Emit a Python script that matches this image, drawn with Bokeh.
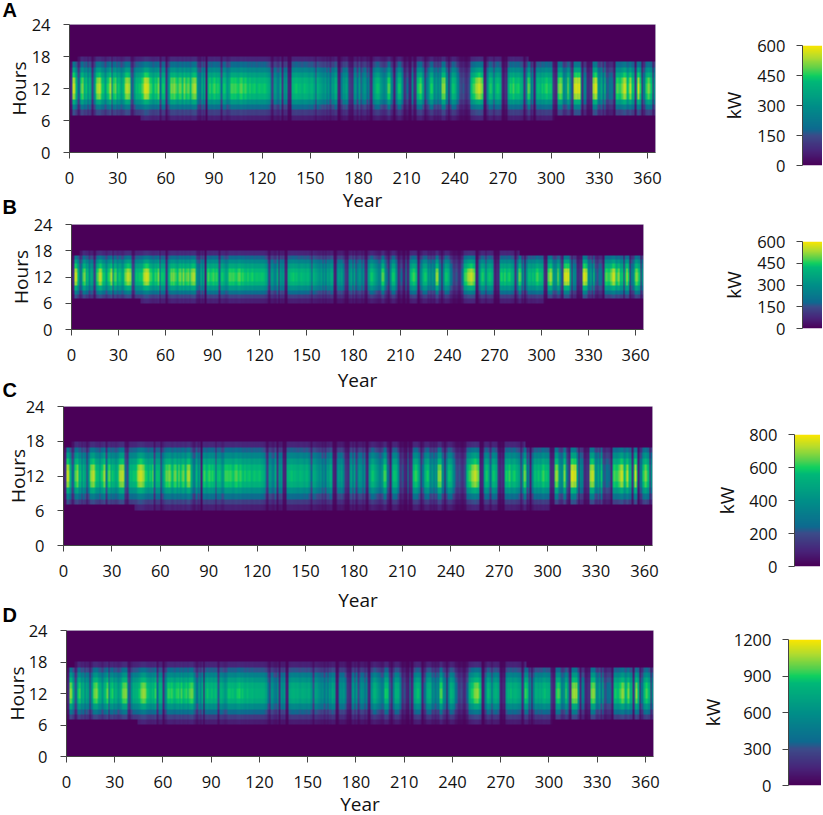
# -*- coding: utf-8 -*-
# Hourly power output over one year, four systems (A-D), each with its own kW scale
import numpy as np

from bokeh.plotting import figure
from bokeh.layouts import column
from bokeh.models import LinearColorMapper, FixedTicker, Title
from bokeh.embed import file_html
from bokeh.resources import INLINE

# noon output per day in kW
day_peak = [
    60, 150, 560, 530, 400, 180, 260, 480, 520, 400,
    430, 280, 400, 350, 130, 300, 470, 530, 550, 500,
    440, 430, 340, 450, 480, 530, 220, 460, 490, 380,
    440, 420, 360, 420, 500, 540, 550, 520, 200, 150,
    330, 430, 420, 440, 440, 480, 540, 570, 560, 530,
    470, 450, 420, 460, 440, 500, 200, 430, 440, 420,
    110, 300, 430, 500, 490, 510, 470, 430, 490, 500,
    440, 510, 440, 480, 500, 430, 510, 540, 530, 400,
    260, 230, 420, 300, 400, 60, 420, 470, 430, 450,
    470, 440, 460, 430, 180, 430, 440, 400, 330, 380,
    470, 470, 460, 470, 450, 440, 480, 490, 450, 470,
    440, 430, 460, 430, 440, 450, 420, 430, 440, 430,
    430, 440, 430, 410, 380, 220, 130, 330, 340, 260,
    240, 370, 110, 330, 300, 340, 80, 70, 400, 420,
    430, 440, 420, 430, 410, 400, 430, 420, 410, 390,
    420, 410, 350, 180, 400, 380, 360, 330, 300, 340,
    240, 320, 220, 350, 330, 400, 370, 80, 60, 220,
    330, 320, 360, 260, 130, 110, 90, 300, 350, 200,
    340, 160, 260, 330, 310, 200, 280, 110, 80, 330,
    400, 440, 430, 380, 330, 280, 260, 330, 480, 470,
    280, 180, 70, 280, 430, 440, 420, 280, 100, 130,
    180, 80, 70, 270, 90, 110, 400, 450, 480, 440,
    330, 80, 200, 300, 420, 450, 430, 280, 330, 240,
    320, 280, 510, 520, 330, 260, 60, 270, 430, 440,
    400, 280, 220, 150, 130, 160, 110, 90, 140, 200,
    430, 470, 490, 530, 550, 560, 520, 470, 70, 80,
    280, 430, 460, 400, 210, 400, 440, 430, 390, 110,
    60, 100, 80, 380, 450, 430, 470, 420, 440, 450,
    420, 400, 350, 110, 280, 500, 470, 200, 280, 70,
    280, 420, 430, 400, 440, 410, 450, 470, 430, 440,
    420, 120, 80, 90, 480, 530, 500, 330, 280, 340,
    510, 400, 180, 110, 550, 580, 560, 570, 340, 100,
    280, 260, 90, 80, 110, 100, 530, 570, 540, 320,
    280, 370, 230, 440, 180, 150, 210, 220, 180, 80,
    440, 480, 460, 470, 510, 570, 550, 430, 480, 540,
    430, 430, 110, 430, 560, 450, 70, 220, 280, 460,
    510, 480, 430, 100, 300,
]

# share of the noon output in each hour of the day
hour_share = [0, 0, 0, 0, 0, 0, 0.14, 0.28, 0.45, 0.7, 0.93, 1.0,
              1.0, 0.95, 0.8, 0.62, 0.4, 0.17, 0, 0, 0, 0, 0, 0]
# hours 6 and 17 only carry power between these days
hour6_days = (44, 301)
hour17_days = (5, 285)

panel_names = ["A", "B", "C", "D"]
panel_scale = [1.0, 1.0, 1.32, 1.85]
bar_ticks = [[0, 150, 300, 450, 600],
             [0, 150, 300, 450, 600],
             [0, 200, 400, 600, 800],
             [0, 300, 600, 900, 1200]]
x_ticks = list(range(0, 361, 30))
y_ticks = [0, 6, 12, 18, 24]

# colour bar stops as they look in the picture
stop_pos = [0, 0.12, 0.25, 0.3, 0.5, 0.7, 0.75, 0.8, 0.9, 1]
stop_rgb = [(74, 0, 88), (72, 37, 122), (60, 76, 138), (14, 106, 144), (0, 144, 136),
            (0, 184, 120), (16, 208, 96), (80, 208, 80), (176, 220, 48), (251, 230, 0)]

FONT = "Open Sans"
INK = "#111111"
AXIS = "#444444"

# pixel boxes on the page: heatmap left, right, top, bottom
frames = [(69, 655, 24, 153), (71, 643, 224, 330), (63, 652, 406, 545), (66, 653, 630, 759)]
bar_frames = [(802, 822, 45, 165), (802, 822, 241, 328), (794, 820, 434, 566), (788, 821, 639, 785)]
fig_boxes = [(-20, 215), (180, 395), (360, 615), (580, 819)]   # figure top, bottom
letter_standoff = [7, 14, 11, 10]
year_standoff = [0, 3, 7, 0]
hours_standoff = [-3, -3, -8, -4]
kw_standoff = [7, 7, 6, 5]
BAR_PAD = 14


def make_palette():
    t = np.linspace(0, 1, 256)
    rgb = np.array(stop_rgb, dtype=float)
    chans = [np.interp(t, stop_pos, rgb[:, i]) for i in range(3)]
    return ["#%02x%02x%02x" % (int(r), int(g), int(b)) for r, g, b in zip(*chans)]


def day_grid(scale):
    grid = np.outer(hour_share, day_peak) * scale
    days = np.arange(len(day_peak))
    grid[6, (days < hour6_days[0]) | (days > hour6_days[1])] = 0
    grid[17, (days < hour17_days[0]) | (days > hour17_days[1])] = 0
    # repeat the cells so the browser does not smear them when it scales the image
    return np.repeat(np.repeat(grid, 8, axis=0), 4, axis=1)


def style_axis(ax):
    ax.axis_line_color = AXIS
    ax.major_tick_line_color = AXIS
    ax.minor_tick_line_color = None
    ax.major_tick_in = 0
    ax.major_tick_out = 6
    ax.major_label_text_font = FONT
    ax.major_label_text_font_size = "16.5px"
    ax.major_label_text_color = INK
    ax.axis_label_text_font = FONT
    ax.axis_label_text_font_size = "19px"
    ax.axis_label_text_font_style = "normal"
    ax.axis_label_text_color = INK


def heat_panel(i, mapper):
    left, right, top, bottom = frames[i]
    fig_top, fig_bottom = fig_boxes[i]
    p = figure(width=right + 12, height=fig_bottom - fig_top,
               x_range=(0, 365), y_range=(0, 24),
               min_border_left=left, min_border_right=12,
               min_border_top=top - fig_top, min_border_bottom=fig_bottom - bottom,
               toolbar_location=None, output_backend="svg", frame_align=False,
               background_fill_alpha=0, border_fill_alpha=0)
    p.image(image=[day_grid(panel_scale[i])], x=0, y=0, dw=365, dh=24, color_mapper=mapper)
    p.grid.visible = False
    p.outline_line_color = "#c9c9d4"
    p.xaxis.ticker = FixedTicker(ticks=x_ticks)
    p.yaxis.ticker = FixedTicker(ticks=y_ticks)
    p.xaxis.axis_label = "Year"
    p.yaxis.axis_label = "Hours"
    style_axis(p.xaxis[0])
    style_axis(p.yaxis[0])
    p.xaxis.major_label_standoff = 13
    p.yaxis.major_label_standoff = 13
    p.xaxis.axis_label_standoff = year_standoff[i]
    p.yaxis.axis_label_standoff = hours_standoff[i]
    # the panel letter is the figure's title, pulled left over the axis
    p.title = Title(text=panel_names[i], align="left", offset=2 - left,
                    standoff=letter_standoff[i], text_font="Liberation Sans",
                    text_font_size="20px", text_font_style="bold", text_color="#000000")
    return p


def bar_panel(i, mapper):
    left, right, top, bottom = bar_frames[i]
    ticks = bar_ticks[i]
    p = figure(width=right - 690, height=bottom - top + 2 * BAR_PAD,
               x_range=(0, 1), y_range=(ticks[0], ticks[-1]),
               min_border_left=left - 690, min_border_right=0,
               min_border_top=BAR_PAD, min_border_bottom=BAR_PAD,
               toolbar_location=None, output_backend="svg", frame_align=False,
               background_fill_alpha=0, border_fill_alpha=0)
    levels = np.linspace(ticks[0], ticks[-1], 256).reshape(256, 1)
    p.image(image=[levels], x=0, y=ticks[0], dw=1, dh=ticks[-1], color_mapper=mapper)
    p.grid.visible = False
    p.outline_line_color = None
    p.xaxis.visible = False
    p.yaxis.ticker = FixedTicker(ticks=ticks)
    p.yaxis.axis_label = "kW"
    style_axis(p.yaxis[0])
    p.yaxis.major_label_standoff = 11
    p.yaxis.axis_label_standoff = kw_standoff[i]
    return p


palette = make_palette()
children = []
cursor = 0
for i in range(4):
    mapper = LinearColorMapper(palette=palette, low=0, high=bar_ticks[i][-1])
    heat = heat_panel(i, mapper)
    bar = bar_panel(i, mapper)
    fig_top, fig_bottom = fig_boxes[i]
    bar_top = bar_frames[i][2] - BAR_PAD
    # stacked in one column, negative margins bring each figure to its spot on the page
    heat.margin = (fig_top - cursor, 0, 0, 0)
    bar_bottom = bar_top + bar.height
    bar.margin = (bar_top - fig_bottom, 0, 0, 690)
    cursor = bar_bottom
    children += [heat, bar]

page = column(children=children, margin=0)
open("out.html", "w").write(file_html(page, INLINE))
